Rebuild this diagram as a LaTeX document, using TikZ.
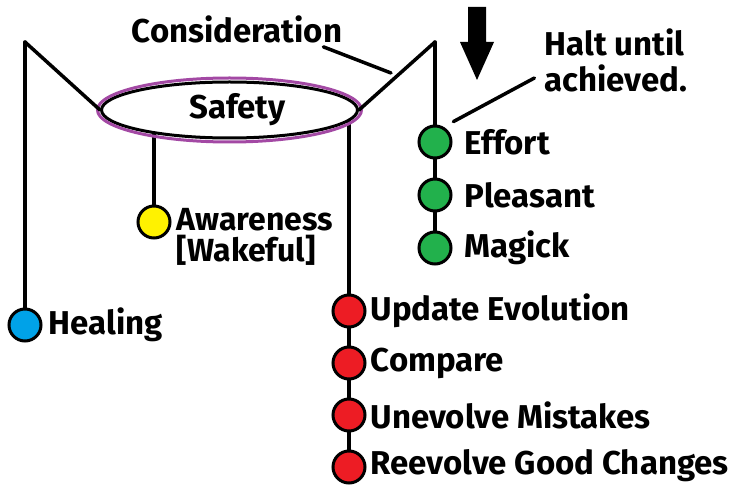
\documentclass[tikz,border=0pt]{standalone}
\usepackage{fontspec}
\setmainfont{Fira Sans}
\usetikzlibrary{positioning,calc,shapes.geometric,backgrounds}

\definecolor{paintgreen}{HTML}{22B14C}
\definecolor{paintred}{HTML}{ED1C24}
\definecolor{paintyellow}{HTML}{FFF200}
\definecolor{paintblue}{HTML}{00A2E8}
\definecolor{paintpurple}{HTML}{A349A4}

\begin{document}
\begin{tikzpicture}[
  x=1pt, y=-1pt,
  wire/.style={line width=3.5pt, line cap=round, line join=round},
  dot/.style={circle, draw, fill=#1, line width=3pt,
              minimum size=32pt, inner sep=0pt},
  lbl/.style={font=\fontsize{33}{36}\selectfont\bfseries, inner sep=1pt},
  hub/.style={ellipse, draw, fill=white, line width=3pt,
              minimum width=256pt, minimum height=56pt, inner sep=0pt,
              font=\fontsize{33}{36}\selectfont\bfseries},
  node distance=18pt
]
\useasboundingbox (0,0) rectangle (738,486);

\node[hub] (safety) at (229.5,110) {\hspace{16pt}Safety};
\draw[paintpurple, line width=3pt] (safety.center)
  ellipse [x radius=132pt, y radius=32pt];

\coordinate (lcorner) at (25,42);
\coordinate (rcorner) at (435,42);

\node[lbl] (consid) at (237,29) {Consideration};
\node[lbl, align=left] (halt) at (616,60) {Halt until\\achieved.};
\fill (468,7) -- (486,7) -- (486,42) -- (494,42) -- (477,80)
  -- (460,42) -- (468,42) -- cycle;

\node[dot=paintblue] (heal) at (25,325) {};
\node[lbl, right=5pt of heal] (heal-t) {Healing};

\node[dot=paintyellow] (aware) at (154,222) {};
\node[lbl, align=left, font=\fontsize{32}{31}\selectfont\bfseries,
      right=4pt of aware, yshift=-15pt] (aware-t) {Awareness\\{[Wakeful]}};

\node[dot=paintgreen] (effort) at (435,142) {};
\node[dot=paintgreen, below=of effort] (pleasant) {};
\node[dot=paintgreen, below=of pleasant] (magick) {};
\node[lbl, right=11pt of effort] (effort-t) {Effort};
\node[lbl, right=11pt of pleasant] (pleasant-t) {Pleasant};
\node[lbl, right=11pt of magick] (magick-t) {Magick};

\begin{scope}[node distance=17pt]
\node[dot=paintred] (update) at (349,311) {};
\node[dot=paintred, below=of update] (compare) {};
\node[dot=paintred, below=of compare] (unevolve) {};
\node[dot=paintred, below=of unevolve] (reevolve) {};
\end{scope}
\node[lbl, right=3pt of update] (update-t) {Update Evolution};
\node[lbl, right=3pt of compare] (compare-t) {Compare};
\node[lbl, right=3pt of unevolve] (unevolve-t) {Unevolve Mistakes};
\node[lbl, right=3pt of reevolve, yshift=1pt] (reevolve-t) {Reevolve Good Changes};

\coordinate (consid-tip) at (391,73);

\draw[wire] (lcorner) -- (safety.west);
\draw[wire] (rcorner) -- (safety.east);
\draw[wire] (lcorner) -- (heal);
\draw[wire] (rcorner) -- (effort);
\draw[wire] (effort) -- (pleasant) -- (magick);
\draw[wire] (update) -- (compare) -- (unevolve) -- (reevolve);
\draw[wire] ([xshift=-20pt,yshift=-3pt]consid.south east) -- (consid-tip);
\draw[wire] ([xshift=-9pt,yshift=-18pt]halt.west) -- ($(effort.45)+(6,-8)$);
\begin{scope}[on background layer]
  \draw[wire] (aware) -- (aware |- safety.center);
  \draw[wire] (update) -- (update |- safety.center);
\end{scope}
\end{tikzpicture}
\end{document}
